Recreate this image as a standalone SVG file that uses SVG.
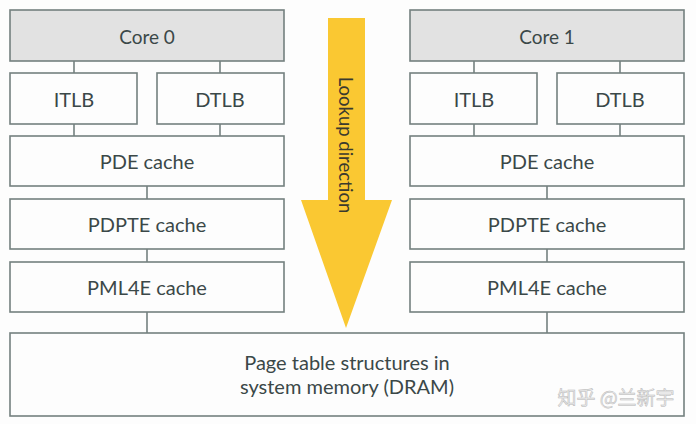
<svg xmlns="http://www.w3.org/2000/svg" width="696" height="424" viewBox="0 0 696 424">
<defs>
<style>
.box{fill:#fdfdfd;stroke:#74807f;stroke-width:1.6}
.core{fill:#e2e2e2;stroke:#74807f;stroke-width:1.6}
.lbl{font-family:Lato,"Open Sans",sans-serif;font-size:20px;fill:#3b4848;text-anchor:middle;dominant-baseline:central}
.conn line{stroke:#74807f;stroke-width:1.6}
</style>
</defs>
<rect width="696" height="424" fill="#fdfdfd"/>
<g class="conn">
<line x1="74" y1="61" x2="74" y2="136"/>
<line x1="220" y1="61" x2="220" y2="136"/>
<line x1="147" y1="186" x2="147" y2="199"/>
<line x1="147" y1="249" x2="147" y2="262"/>
<line x1="147" y1="312" x2="147" y2="333"/>
<line x1="474" y1="61" x2="474" y2="136"/>
<line x1="620" y1="61" x2="620" y2="136"/>
<line x1="547" y1="186" x2="547" y2="199"/>
<line x1="547" y1="249" x2="547" y2="262"/>
<line x1="547" y1="312" x2="547" y2="333"/>
</g>
<g id="core0"><rect class="core" x="10" y="10" width="274" height="51"/><text class="lbl" x="147" y="36" style="font-size:19px">Core 0</text></g>
<g id="itlb0"><rect class="box" x="10" y="73" width="127" height="51"/><text class="lbl" x="74" y="99">ITLB</text></g>
<g id="dtlb0"><rect class="box" x="157" y="73" width="127" height="51"/><text class="lbl" x="220" y="99">DTLB</text></g>
<g id="pde0"><rect class="box" x="10" y="136" width="274" height="50"/><text class="lbl" x="147" y="161">PDE cache</text></g>
<g id="pdpte0"><rect class="box" x="10" y="199" width="274" height="50"/><text class="lbl" x="147" y="224">PDPTE cache</text></g>
<g id="pml4e0"><rect class="box" x="10" y="262" width="274" height="50"/><text class="lbl" x="147" y="287">PML4E cache</text></g>
<g id="core1"><rect class="core" x="410" y="10" width="274" height="51"/><text class="lbl" x="547" y="36" style="font-size:19px">Core 1</text></g>
<g id="itlb1"><rect class="box" x="410" y="73" width="127" height="51"/><text class="lbl" x="474" y="99">ITLB</text></g>
<g id="dtlb1"><rect class="box" x="557" y="73" width="127" height="51"/><text class="lbl" x="620" y="99">DTLB</text></g>
<g id="pde1"><rect class="box" x="410" y="136" width="274" height="50"/><text class="lbl" x="547" y="161">PDE cache</text></g>
<g id="pdpte1"><rect class="box" x="410" y="199" width="274" height="50"/><text class="lbl" x="547" y="224">PDPTE cache</text></g>
<g id="pml4e1"><rect class="box" x="410" y="262" width="274" height="50"/><text class="lbl" x="547" y="287">PML4E cache</text></g>
<g id="dram"><rect class="box" x="10" y="333" width="674" height="83"/>
<text class="lbl" x="347" y="362">Page table structures in</text>
<text class="lbl" x="347" y="386">system memory (DRAM)</text></g>
<g id="arrow">
<polygon points="328,18 365,18 365,200 392,200 346,328 301,200 328,200" fill="#fac832"/>
<text class="lbl" transform="translate(346,145) rotate(90)" x="0" y="0" style="font-size:18.5px;fill:#3a3a2e">Lookup direction</text>
</g>
<text x="616" y="396" style="font-family:'Noto Sans CJK SC',sans-serif;font-size:19px;fill:#ececec;text-anchor:middle;dominant-baseline:central;stroke:#b8b8b8;stroke-width:0.5">知乎 @兰新宇</text>
</svg>
